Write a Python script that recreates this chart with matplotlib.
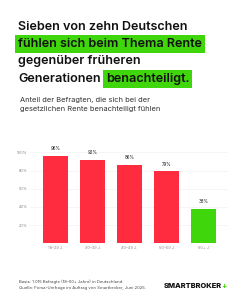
import matplotlib.pyplot as plt
import numpy as np

plt.rcParams['font.family'] = ['Inter', 'DejaVu Sans']

categories = ["18–29 J.", "30–39 J.", "40–49 J.", "50–59 J.", "60+ J."]
values = [96, 92, 86, 79, 38]
value_labels = ["96%", "92%", "86%", "79%", "38%"]
yticks = [20, 40, 60, 80, 100]

RED = "#ff2b3e"
GREEN = "#3fd60c"
W, H = 243, 303

fig = plt.figure(figsize=(W / 100, H / 100), dpi=100)
fig.patch.set_facecolor("white")

def fx(px):
    return px / W

def fy(py):
    return 1 - py / H

# title with highlighted parts
title_kw = dict(fontsize=9.1, fontweight="semibold", color="#111111", va="center", ha="left")
hl = dict(boxstyle="square,pad=0.22", facecolor=GREEN, edgecolor="none")
fig.text(fx(18), fy(27), "Sieben von zehn Deutschen", **title_kw)
fig.text(fx(18), fy(44), "fühlen sich beim Thema Rente", bbox=hl, **title_kw)
fig.text(fx(18), fy(61), "gegenüber früheren", **title_kw)
t4 = fig.text(fx(18), fy(79), "Generationen", **title_kw)
r = fig.canvas.get_renderer()
ext = t4.get_window_extent(renderer=r)
fig.text(ext.x1 / W + fx(5), fy(79), "benachteiligt.", bbox=hl, **title_kw)

# subtitle
sub_kw = dict(fontsize=5.4, color="#333333", va="center", ha="left")
fig.text(fx(20), fy(100), "Anteil der Befragten, die sich bei der", **sub_kw)
fig.text(fx(20), fy(109), "gesetzlichen Rente benachteiligt fühlen", **sub_kw)

# bar chart
ax = fig.add_axes([fx(30), fy(243.3), fx(198), 91 / H])
x = np.arange(len(categories))
colors = [RED] * 4 + [GREEN]
ax.bar(x, values, width=0.68, color=colors, zorder=2)
for xi, v, lab in zip(x, values, value_labels):
    ax.text(xi, v + 5, lab, ha="center", va="bottom", fontsize=3.2,
            color="#222222", clip_on=False)
ax.set_xlim(-0.69, 4.66)
ax.set_ylim(0, 100)
ax.set_yticks(yticks)
ax.set_yticklabels([f"{t}%" for t in yticks])
ax.set_xticks(x)
ax.set_xticklabels(categories)
ax.tick_params(axis="both", length=0, labelsize=2.8, labelcolor="#888888", pad=2)
ax.grid(axis="y", color="#eeeeee", linewidth=0.4, zorder=0)
for s in ax.spines.values():
    s.set_visible(False)
ax.axhline(0, color="#e6e6e6", linewidth=0.5, zorder=1)

# footer
foot_kw = dict(fontsize=3.0, color="#444444", va="center", ha="left")
fig.text(fx(19), fy(281.7), "Basis: 1.015 Befragte (18–60+ Jahre) in Deutschland.", **foot_kw)
fig.text(fx(19), fy(287.7), "Quelle: Forsa-Umfrage im Auftrag von Smartbroker, Juni 2025.", **foot_kw)
logo = fig.text(fx(164), fy(285.7), "SMARTBROKER", fontsize=5.4, fontweight="heavy",
                color="#111111", va="center", ha="left")
lext = logo.get_window_extent(renderer=r)
fig.text(lext.x1 / W - fx(1), fy(285.7), "+", fontsize=5.6, fontweight="bold",
         color=GREEN, va="center", ha="left")

fig.savefig("out.png", dpi=100, facecolor="white")
